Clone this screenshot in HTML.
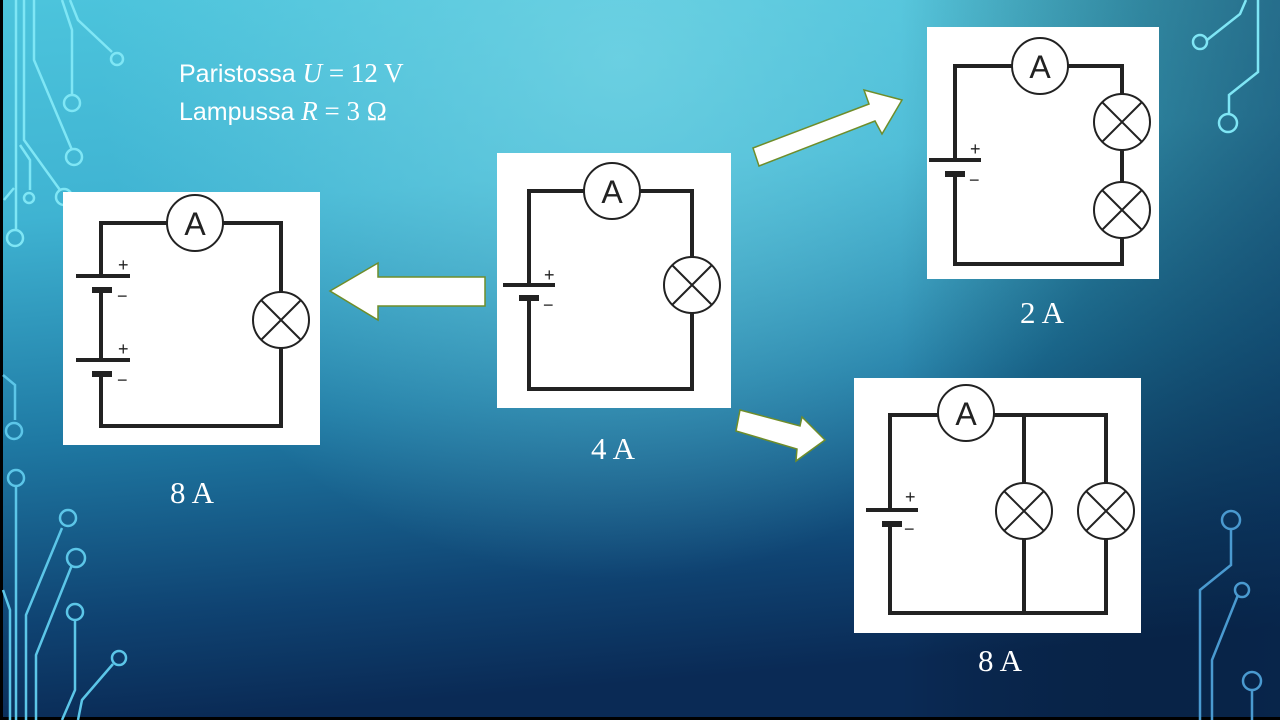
<!DOCTYPE html>
<html><head><meta charset="utf-8"><style>
html,body{margin:0;padding:0;width:1280px;height:720px;overflow:hidden;background:#000}
svg{display:block}
</style></head><body>
<svg width="1280" height="720" viewBox="0 0 1280 720" xmlns="http://www.w3.org/2000/svg">
<defs>
<linearGradient id="bg" x1="0" y1="0" x2="0.15" y2="1">
<stop offset="0" stop-color="#4cc4dc"/>
<stop offset="0.3" stop-color="#3fb3d2"/>
<stop offset="0.6" stop-color="#1f7aa4"/>
<stop offset="0.85" stop-color="#0f4372"/>
<stop offset="1" stop-color="#0a2a55"/>
</linearGradient>
<radialGradient id="hl" cx="620" cy="60" r="520" gradientUnits="userSpaceOnUse">
<stop offset="0" stop-color="#7ad8e6" stop-opacity="0.7"/>
<stop offset="1" stop-color="#7ad8e6" stop-opacity="0"/>
</radialGradient>
<linearGradient id="rs" x1="0" y1="0" x2="1" y2="0">
<stop offset="0" stop-color="#000" stop-opacity="0"/>
<stop offset="1" stop-color="#062040" stop-opacity="0.5"/>
</linearGradient>
</defs>
<rect width="1280" height="720" fill="url(#bg)"/>
<rect width="1280" height="720" fill="url(#hl)"/>
<rect x="900" y="0" width="380" height="720" fill="url(#rs)"/>
<rect x="0" y="0" width="3" height="720" fill="#000"/>
<rect x="0" y="717" width="1280" height="3" fill="#000"/>

<!-- decorations left -->
<g fill="none" stroke="#7fe6f5" stroke-width="2.5">
<path d="M16 0 V230"/><circle cx="15" cy="238" r="8"/>
<path d="M24 0 V140 L60 190"/><circle cx="64" cy="197" r="8"/>
<path d="M34 0 V60 L72 150"/><circle cx="74" cy="157" r="8"/>
<path d="M62 0 L72 30 V95"/><circle cx="72" cy="103" r="8"/>
<path d="M70 0 L78 20 L112 52"/><circle cx="117" cy="59" r="6"/>
<path d="M20 145 L30 160 V190"/><circle cx="29" cy="198" r="5"/>
<path d="M4 200 L14 188"/>
</g>
<g fill="none" stroke="#5cc6e8" stroke-width="2.5">
<path d="M3 375 L15 385 V420"/><circle cx="14" cy="431" r="8"/>
<path d="M16 487 V720"/><circle cx="16" cy="478" r="8"/>
<path d="M3 590 L10 610 V720"/>
<path d="M26 720 V615 L62 528"/><circle cx="68" cy="518" r="8"/>
<path d="M36 720 V655 L72 565"/><circle cx="76" cy="558" r="9"/>
<path d="M75 620 V690 L62 720"/><circle cx="75" cy="612" r="8"/>
<path d="M78 720 L82 700 L113 664"/><circle cx="119" cy="658" r="7"/>
</g>
<!-- decorations right -->
<g fill="none" stroke="#7fe6f5" stroke-width="2.5">
<path d="M1246 0 L1240 14 L1207 40"/><circle cx="1200" cy="42" r="7"/>
<path d="M1258 0 V72 L1229 95 V115"/><circle cx="1228" cy="123" r="9"/>
</g>
<g fill="none" stroke="#4a9ad0" stroke-width="2.5">
<path d="M1231 529 V565 L1200 590 V720"/><circle cx="1231" cy="520" r="9"/>
<path d="M1238 595 L1212 660 V720"/><circle cx="1242" cy="590" r="7"/>
<path d="M1252 690 V720"/><circle cx="1252" cy="681" r="9"/>
</g>

<!-- title text -->
<text x="179" y="82" font-family="Liberation Sans, sans-serif" font-size="25" fill="#fff">Paristossa <tspan font-family="Liberation Serif, serif" font-size="27" font-style="italic">U</tspan><tspan font-family="Liberation Serif, serif" font-size="27"> = 12 V</tspan></text>
<text x="179" y="120" font-family="Liberation Sans, sans-serif" font-size="25" fill="#fff">Lampussa <tspan font-family="Liberation Serif, serif" font-size="27" font-style="italic">R</tspan><tspan font-family="Liberation Serif, serif" font-size="27"> = 3 Ω</tspan></text>

<!-- arrows -->
<g fill="#fff" stroke="#6f8d2a" stroke-width="1.5">
<polygon points="485,277 378,277 378,263 330,291 378,320 378,306 485,306"/>
<polygon points="759,166 875,121 882,134 902,100 864,90 869,104 753,148"/>
<polygon points="740,410 800,426 802,417 825,440 796,461 797,449 736,431"/>
</g>

<g font-family="Liberation Sans, sans-serif" fill="#222">
<!-- center circuit -->
<rect x="497" y="153" width="234" height="255" fill="#fff"/>
<g fill="none" stroke="#222" stroke-width="4">
<path d="M529 285 V191 H692 V389 H529 V298"/>
</g>
<g fill="#fff" stroke="#222" stroke-width="2">
<circle cx="612" cy="191" r="28"/><circle cx="692" cy="285" r="28"/>
<path d="M672 265 L712 305 M712 265 L672 305"/>
</g>
<rect x="503" y="283" width="52" height="4"/><rect x="519" y="295" width="20" height="6"/>
<text x="612" y="203" font-size="32" text-anchor="middle">A</text>
<text x="544" y="281" font-size="18">+</text><text x="543" y="311" font-size="18">−</text>

<!-- left circuit -->
<rect x="63" y="192" width="257" height="253" fill="#fff"/>
<g fill="none" stroke="#222" stroke-width="4">
<path d="M101 276 V223 H281 V426 H101 V374 M101 290 V360"/>
</g>
<g fill="#fff" stroke="#222" stroke-width="2">
<circle cx="195" cy="223" r="28"/><circle cx="281" cy="320" r="28"/>
<path d="M261 300 L301 340 M301 300 L261 340"/>
</g>
<rect x="76" y="274" width="54" height="4"/><rect x="92" y="287" width="20" height="6"/>
<rect x="76" y="358" width="54" height="4"/><rect x="92" y="371" width="20" height="6"/>
<text x="195" y="235" font-size="32" text-anchor="middle">A</text>
<text x="118" y="271" font-size="18">+</text><text x="117" y="302" font-size="18">−</text>
<text x="118" y="355" font-size="18">+</text><text x="117" y="386" font-size="18">−</text>

<!-- top right circuit -->
<rect x="927" y="27" width="232" height="252" fill="#fff"/>
<g fill="none" stroke="#222" stroke-width="4">
<path d="M955 160 V66 H1122 V264 H955 V174"/>
</g>
<g fill="#fff" stroke="#222" stroke-width="2">
<circle cx="1040" cy="66" r="28"/><circle cx="1122" cy="122" r="28"/><circle cx="1122" cy="210" r="28"/>
<path d="M1102 102 L1142 142 M1142 102 L1102 142 M1102 190 L1142 230 M1142 190 L1102 230"/>
</g>
<rect x="929" y="158" width="52" height="4"/><rect x="945" y="171" width="20" height="6"/>
<text x="1040" y="78" font-size="32" text-anchor="middle">A</text>
<text x="970" y="155" font-size="18">+</text><text x="969" y="186" font-size="18">−</text>

<!-- bottom right circuit -->
<rect x="854" y="378" width="287" height="255" fill="#fff"/>
<g fill="none" stroke="#222" stroke-width="4">
<path d="M890 510 V415 H1106 V613 H890 V523 M1024 415 V613"/>
</g>
<g fill="#fff" stroke="#222" stroke-width="2">
<circle cx="966" cy="413" r="28"/><circle cx="1024" cy="511" r="28"/><circle cx="1106" cy="511" r="28"/>
<path d="M1004 491 L1044 531 M1044 491 L1004 531 M1086 491 L1126 531 M1126 491 L1086 531"/>
</g>
<rect x="866" y="508" width="52" height="4"/><rect x="882" y="521" width="20" height="6"/>
<text x="966" y="425" font-size="32" text-anchor="middle">A</text>
<text x="905" y="503" font-size="18">+</text><text x="904" y="535" font-size="18">−</text>
</g>

<!-- labels -->
<g font-family="Liberation Serif, serif" font-size="31" fill="#fff" text-anchor="middle">
<text x="613" y="459">4 A</text>
<text x="192" y="503">8 A</text>
<text x="1042" y="323">2 A</text>
<text x="1000" y="671">8 A</text>
</g>
</svg>
</body></html>
